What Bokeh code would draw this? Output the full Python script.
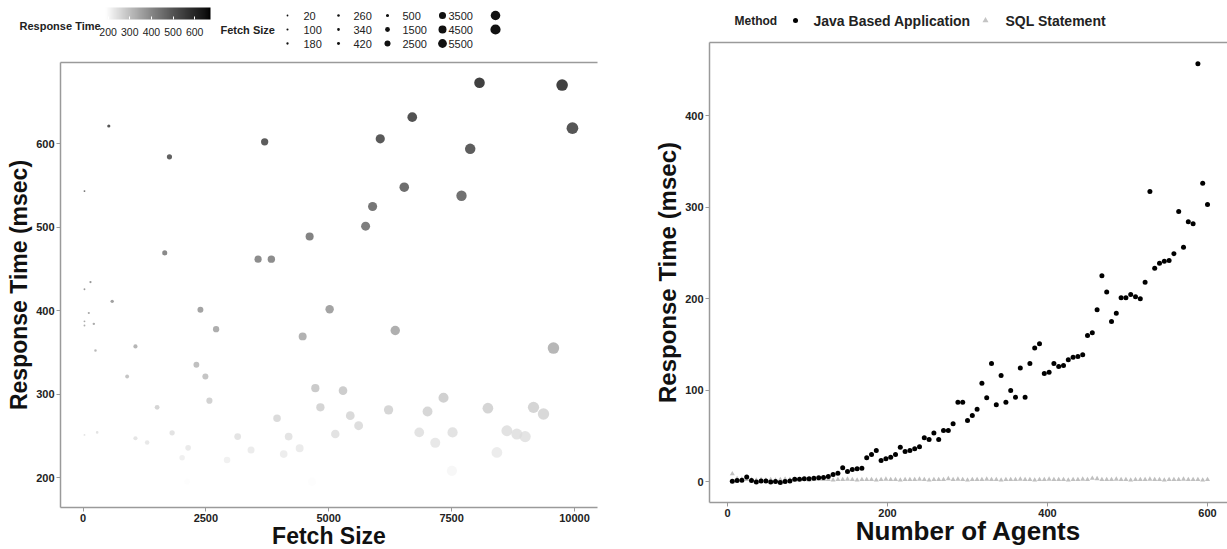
import numpy as np
from bokeh.plotting import figure
from bokeh.layouts import row
from bokeh.models import (Range1d, FixedTicker, ColorBar, LinearColorMapper,
                          ColumnDataSource, AllLabels, LinearAxis)
from bokeh.transform import linear_cmap
from bokeh.core.properties import value
from bokeh.embed import file_html
from bokeh.resources import INLINE

FONT = "Liberation Sans"

# ---------------- left panel data ----------------
fetch_size = [525, 30, 1759, 3696, 1663, 3562, 3832, 4611, 152, 30, 594, 2389,
              8067, 9748, 6699, 6048, 7878, 9958, 6536, 7701, 5892, 5750, 5018,
              118, 30, 30, 220, 2708, 4469, 1067, 254, 2307, 2490, 898, 4727,
              2572, 1508, 4830, 3948, 1813, 30, 288, 3147, 4184, 1067, 1305,
              3419, 2139, 4408, 2931, 2017, 4083, 6353, 9572, 5290, 5438, 5608,
              6217, 7010, 7335, 6841, 7519, 7167, 8238, 9166, 9369, 8624, 8827,
              8996, 8421, 5133, 4659, 2118, 7506]
response_time = [621, 543, 584, 602, 469, 461.5, 461.5, 488.6, 434, 425.5, 411, 401,
                 672.7, 670, 631.5, 605.6, 593.6, 618.3, 547.7, 537.4, 524.5, 501, 401.5,
                 397, 387, 382, 384, 377.6, 369, 357, 352, 335, 321, 321, 307,
                 292, 284, 284, 271, 253.5, 251, 254, 249, 249, 247, 242,
                 233, 235.5, 235, 221, 223.6, 228, 376, 355, 304, 274, 262,
                 281, 279, 295.5, 254, 254, 241.5, 283, 284, 276, 256, 252,
                 249, 230, 252, 195, 195, 208]
size_breaks = [20, 100, 180, 260, 340, 420, 500, 1500, 2500, 3500, 4500, 5500, 6500, 7500]
size_labels = ["20", "100", "180", "260", "340", "420", "500", "1500", "2500",
               "3500", "4500", "5500", "", ""]
color_ticks = [200, 300, 400, 500, 600]
left_x_ticks = [0, 2500, 5000, 7500, 10000]
left_y_ticks = [200, 300, 400, 500, 600]

# ---------------- right panel data ----------------
agents = [6, 12, 18, 24, 30, 36, 42, 48, 54, 60, 66, 72, 78, 84, 90, 96, 102, 108, 114, 120,
          126, 132, 138, 144, 150, 156, 162, 168, 174, 180, 186, 192, 198, 204, 210, 216, 222, 228, 234, 240,
          246, 252, 258, 264, 270, 276, 282, 288, 294, 300, 306, 312, 318, 324, 330, 336, 342, 348, 354, 360,
          366, 372, 378, 384, 390, 396, 402, 408, 414, 420, 426, 432, 438, 444, 450, 456, 462, 468, 474, 480,
          486, 492, 498, 504, 510, 516, 522, 528, 534, 540, 546, 552, 558, 564, 570, 576, 582, 588, 594, 600]
java_ms = [0.3, 1.0, 1.5, 5.0, 1.0, -0.5, 0.5, 0.5, -0.5, 0.0, -1.0, 0.0, 0.5, 2.5, 2.5, 3.0, 3.0, 3.5, 4.0, 4.5,
           5.5, 7.6, 9.0, 15.0, 11.0, 13.0, 13.8, 14.6, 26.0, 29.5, 33.9, 23.0, 24.8, 26.6, 29.5, 37.5, 32.8, 33.9, 35.7, 38.0,
           47.8, 45.9, 53.0, 45.9, 55.7, 55.7, 63.0, 86.7, 86.7, 66.7, 72.0, 79.0, 107.5, 91.4, 129.0, 83.8, 115.8, 86.7, 99.5, 92.0,
           124.0, 92.0, 129.0, 146.0, 150.5, 118.0, 119.5, 129.0, 125.7, 126.8, 133.0, 135.8, 136.6, 138.5, 159.6, 162.5, 187.6, 224.8, 207.0, 175.0,
           184.0, 200.7, 200.7, 204.4, 202.0, 199.6, 217.8, 317.0, 233.0, 238.6, 240.8, 241.5, 249.0, 295.0, 256.0, 284.0, 281.6, 456.5, 326.0, 302.7]
sql_ms = [8.4, 3.0, 2.5, 2.0, 2.0, 1.5, 2.0, 1.5, 2.0, 1.5, 2.0, 2.5, 2.0, 1.5, 2.0, 2.0, 1.5, 2.0, 2.5, 2.0,
          2.0, 1.5, 2.0, 2.0, 2.5, 2.0, 1.5, 2.0, 2.0, 2.0, 1.5, 2.0, 2.5, 2.0, 2.0, 1.5, 2.0, 2.0, 2.0, 2.5,
          2.0, 1.5, 2.0, 2.0, 2.0, 3.0, 2.0, 2.5, 2.0, 1.5, 2.0, 2.0, 2.0, 2.5, 2.0, 2.0, 1.5, 2.0, 2.0, 2.0,
          2.5, 2.0, 2.0, 1.5, 2.0, 2.0, 2.5, 2.0, 2.0, 2.0, 1.5, 2.0, 2.0, 2.5, 2.0, 3.5, 3.0, 2.0, 2.0, 2.0,
          2.5, 2.0, 2.0, 1.5, 2.0, 2.0, 2.0, 2.5, 2.0, 2.0, 1.5, 2.0, 2.0, 2.0, 2.5, 2.0, 2.0, 2.0, 1.5, 2.0]
method_names = ["Java Based Application", "SQL Statement"]
right_x_ticks = [0, 200, 400, 600]
right_y_ticks = [0, 100, 200, 300, 400]

AXIS_COL = "#9a9a9a"
TEXT_COL = "#222222"
RT_LOW, RT_HIGH = 188, 673

W1, W2, H = 640, 587, 549


def lab_grey_palette(n=256):
    """white -> black gradient interpolated in CIE Lab lightness (as ggplot does)."""
    out = []
    for i in range(n):
        L = 100.0 * (1 - i / (n - 1))
        fy = (L + 16) / 116
        Y = fy ** 3 if fy ** 3 > 0.008856 else L / 903.3
        c = 12.92 * Y if Y <= 0.0031308 else 1.055 * Y ** (1 / 2.4) - 0.055
        g = int(round(max(0, min(1, c)) * 255))
        out.append("#%02x%02x%02x" % (g, g, g))
    return out


grey_palette = lab_grey_palette()


def marker_size(v):
    return np.sqrt(3 + 0.0135 * np.asarray(v, dtype=float))


def lin_range(p0, v0, p1, v1, lo_px, hi_px):
    """value at page-pixel positions lo_px / hi_px given two anchors (pixel, value)."""
    k = (v1 - v0) / (p1 - p0)
    return v0 + (lo_px - p0) * k, v0 + (hi_px - p0) * k


def style_axis(ax, label, label_size, ticks, standoff):
    ax.axis_label = label
    ax.ticker = FixedTicker(ticks=ticks)
    ax.axis_line_color = AXIS_COL
    ax.axis_line_width = 1.5
    ax.major_tick_line_color = AXIS_COL
    ax.major_tick_line_width = 1
    ax.major_tick_out = 4
    ax.major_tick_in = 0
    ax.minor_tick_line_color = None
    ax.major_label_text_font = FONT
    ax.major_label_text_font_style = "bold"
    ax.major_label_text_font_size = "11px"
    ax.major_label_text_color = TEXT_COL
    ax.major_label_standoff = 2
    ax.axis_label_text_font = FONT
    ax.axis_label_text_font_style = "bold"
    ax.axis_label_text_color = "#111111"
    ax.axis_label_text_font_size = label_size
    ax.axis_label_standoff = standoff


def make_panel(width, page_x0, xanch, yanch, xbox, ybox, xlab, ylab, xticks, yticks):
    # xanch / yanch: two (page pixel, data value) anchors each; xbox / ybox: plot-box edges in page px
    xs, xe = lin_range(xanch[0][0], xanch[0][1], xanch[1][0], xanch[1][1], page_x0, page_x0 + width)
    ye, ys = lin_range(yanch[0][0], yanch[0][1], yanch[1][0], yanch[1][1], 0, H)
    xb = lin_range(xanch[0][0], xanch[0][1], xanch[1][0], xanch[1][1], xbox[0], xbox[1])
    yb = lin_range(yanch[0][0], yanch[0][1], yanch[1][0], yanch[1][1], ybox[1], ybox[0])
    p = figure(width=width, height=H, x_range=Range1d(xs, xe), y_range=Range1d(ys, ye),
               output_backend="svg", toolbar_location=None, min_border=0,
               min_border_left=0, min_border_right=0, min_border_top=0, min_border_bottom=0)
    p.extra_x_ranges = {"px": Range1d(page_x0, page_x0 + width)}
    p.extra_y_ranges = {"px": Range1d(H, 0)}
    p.grid.visible = False
    p.outline_line_color = None
    bottom_axis = p.below[0]
    left_axis = p.left[0]
    bottom_axis.fixed_location = yb[0]
    left_axis.fixed_location = xb[0]
    bottom_axis.bounds = xb
    left_axis.bounds = yb
    style_axis(bottom_axis, xlab[0], xlab[1], xticks, xlab[2])
    style_axis(left_axis, ylab[0], ylab[1], yticks, ylab[2])
    top = LinearAxis(fixed_location=yb[1], bounds=xb, ticker=FixedTicker(ticks=[]),
                     axis_line_color=AXIS_COL, axis_line_width=1.5,
                     major_tick_line_color=None, minor_tick_line_color=None,
                     major_label_text_font_size="0px")
    p.add_layout(top, "above")
    return p


def txt(p, x, y, t, size, bold=True):
    p.text(x=x, y=y, text=t, text_font=value(FONT), text_font_size=size,
           text_font_style="bold" if bold else "normal", text_baseline="middle",
           text_align="left", text_color=TEXT_COL, x_range_name="px", y_range_name="px")


# ================= left panel =================
p1 = make_panel(W1, 0, [(82.5, 0), (574, 10000)], [(143, 600), (477, 200)],
                (60, 597), (62, 507),
                ("Fetch Size", "23px", -2), ("Response Time (msec)", "23px", 1),
                left_x_ticks, left_y_ticks)
src1 = ColumnDataSource(dict(x=fetch_size, y=response_time, s=marker_size(fetch_size)))
p1.scatter("x", "y", source=src1, size="s", marker="circle",
           fill_color=linear_cmap("y", grey_palette, RT_LOW, RT_HIGH), fill_alpha=0.75, line_color=None)

# legend: colour bar
txt(p1, [19], [25], ["Response Time"], "11px")
mapper = LinearColorMapper(palette=grey_palette, low=RT_LOW, high=RT_HIGH)
cb = ColorBar(color_mapper=mapper, orientation="horizontal", width=105, height=12,
              location=(105, H - 38), ticker=FixedTicker(ticks=color_ticks),
              major_label_policy=AllLabels(),
              major_label_text_font_size="10.5px", major_label_text_font=FONT,
              major_label_text_color=TEXT_COL, label_standoff=8,
              major_tick_line_color="white", major_tick_in=3, major_tick_out=0,
              minor_tick_line_color=None, bar_line_color=None, padding=0, margin=0,
              background_fill_color=None, border_line_color=None)
p1.add_layout(cb, "center")
# legend: point sizes
txt(p1, [220], [29], ["Fetch Size"], "11px")
col_dot_x = [287, 338, 387, 442, 495]
col_lab_x = [303, 353, 402, 448, 511]
row_y = [15, 29, 43]
dx, dy, lx, lab = [], [], [], []
for i, v in enumerate(size_breaks):
    c, r = i // 3, i % 3
    dx.append(col_dot_x[c]); dy.append(row_y[r]); lx.append(col_lab_x[c]); lab.append(size_labels[i])
p1.scatter(x=dx, y=dy, size=marker_size(size_breaks), marker="circle", fill_color="#111111",
           line_color=None, x_range_name="px", y_range_name="px")
txt(p1, lx, dy, lab, "11px", bold=False)

# ================= right panel =================
p2 = make_panel(W2, W1, [(727, 0), (1207, 600)], [(481, 0), (115, 400)],
                (709, 1231), (42, 502),
                ("Number of Agents", "26px", -4), ("Response Time (msec)", "24px", 1),
                right_x_ticks, right_y_ticks)
p2.scatter(agents, sql_ms, size=5, marker="triangle", fill_color="#b8b8b8", line_color=None,
           fill_alpha=0.9)
p2.scatter(agents, java_ms, size=5, marker="circle", fill_color="black", line_color=None)

# legend: method
txt(p2, [734], [20], ["Method"], "12px")
p2.scatter(x=[795], y=[20], size=5, marker="circle", fill_color="black", line_color=None,
           x_range_name="px", y_range_name="px")
txt(p2, [813], [20], [method_names[0]], "14px")
p2.scatter(x=[985], y=[20], size=6, marker="triangle", fill_color="#c4c4c4", line_color=None,
           x_range_name="px", y_range_name="px")
txt(p2, [1005], [20], [method_names[1]], "14px")

layout = row(p1, p2)
open("out.html", "w").write(file_html(layout, INLINE))
